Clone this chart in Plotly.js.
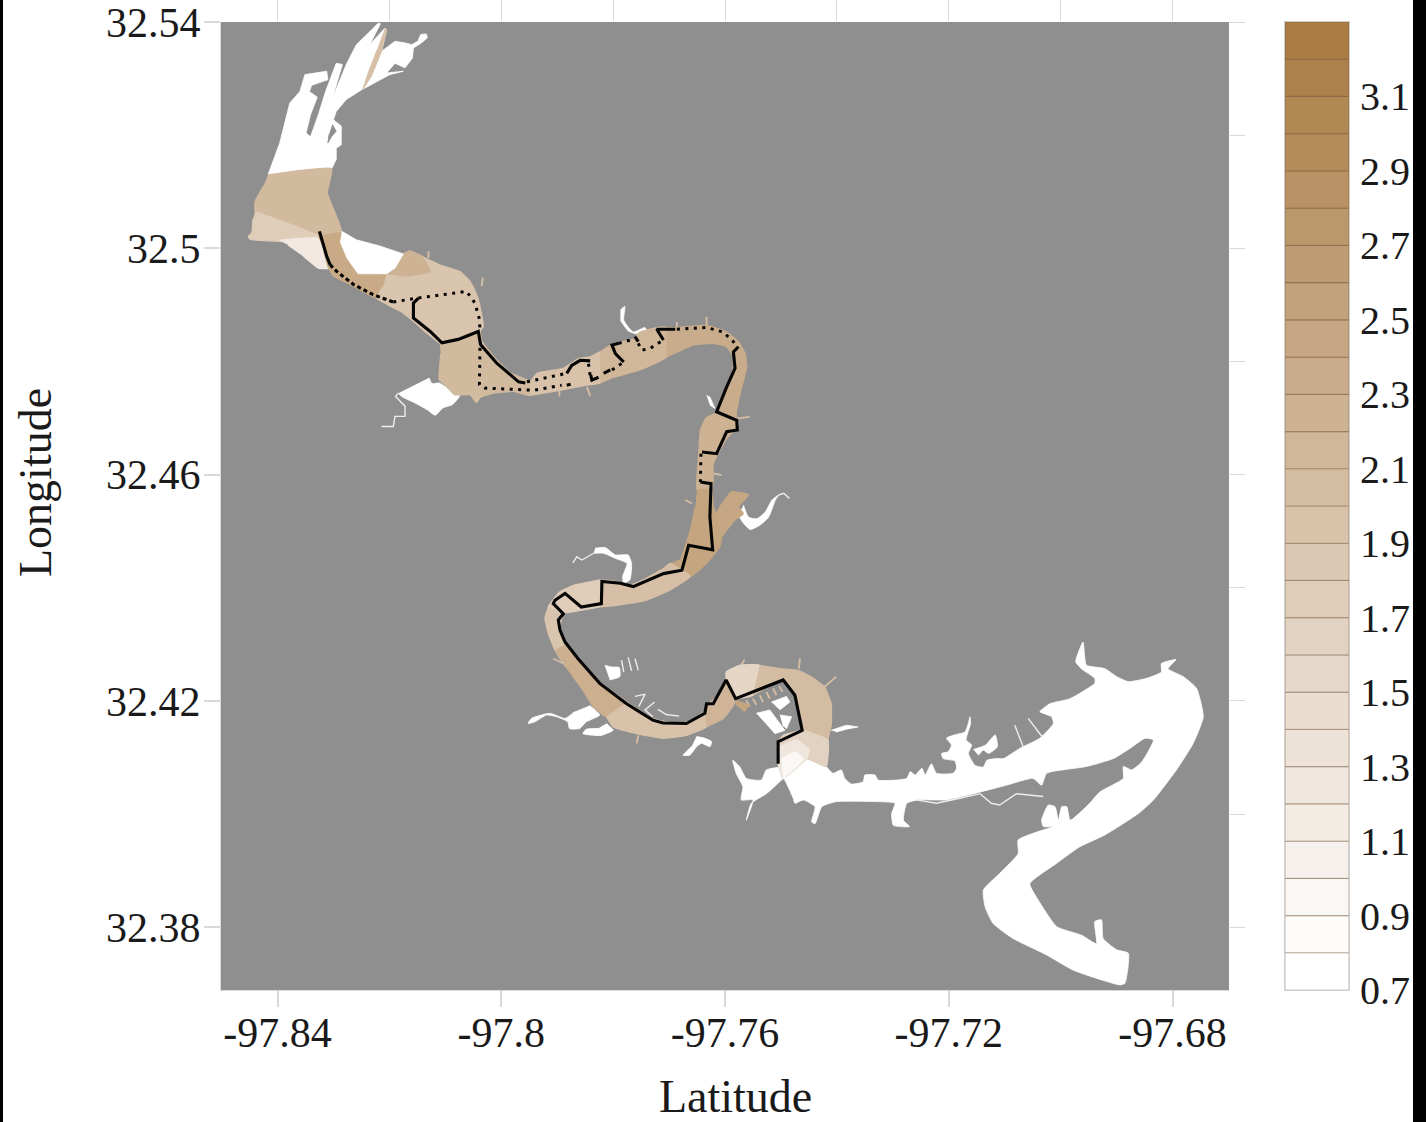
<!DOCTYPE html>
<html><head><meta charset="utf-8">
<script src="https://cdn.plot.ly/plotly-3.0.1.min.js"></script>
<style>html,body{margin:0;padding:0;background:#fff;overflow:hidden}</style></head>
<body><div id="chart" style="width:1426px;height:1122px"></div>
<script>
// ---- colour bar levels and tick labels ----
const levelMids=[0.75,0.85,0.95,1.05,1.15,1.25,1.35,1.45,1.55,1.65,1.75,1.85,1.95,2.05,2.15,2.25,2.35,2.45,2.55,2.65,2.75,2.85,2.95,3.05,3.15,3.25];
const levelTicks=[0.7,0.9,1.1,1.3,1.5,1.7,1.9,2.1,2.3,2.5,2.7,2.9,3.1];
const lonTicks=[-97.84,-97.8,-97.76,-97.72,-97.68];
const lonLabels=['-97.84','-97.8','-97.76','-97.72','-97.68'];
const latTicks=[32.38,32.42,32.46,32.5,32.54];
const latLabels=['32.38','32.42','32.46','32.5','32.54'];

// ---- white (below range) water ----
const lakeLon=[-97.7419,-97.7407,-97.7392,-97.7386,-97.7374,-97.7353,-97.7350,-97.7332,-97.7326,-97.7275,-97.7269,-97.7260,-97.7248,-97.7242,-97.7231,-97.7222,-97.7192,-97.7186,-97.7189,-97.7210,-97.7213,-97.7201,-97.7195,-97.7204,-97.7189,-97.7171,-97.7165,-97.7162,-97.7161,-97.7169,-97.7159,-97.7165,-97.7153,-97.7138,-97.7132,-97.7114,-97.7102,-97.7073,-97.7037,-97.7013,-97.7016,-97.7037,-97.7019,-97.6983,-97.6939,-97.6939,-97.6963,-97.6973,-97.6960,-97.6957,-97.6954,-97.6921,-97.6900,-97.6879,-97.6846,-97.6820,-97.6820,-97.6794,-97.6808,-97.6781,-97.6757,-97.6745,-97.6763,-97.6793,-97.6834,-97.6861,-97.6921,-97.6966,-97.7007,-97.7055,-97.7040,-97.7007,-97.6963,-97.6936,-97.6939,-97.6927,-97.6924,-97.6900,-97.6879,-97.6885,-97.6894,-97.6977,-97.7025,-97.7085,-97.7121,-97.7135,-97.7138,-97.7109,-97.7076,-97.7076,-97.7049,-97.7013,-97.7031,-97.7034,-97.7022,-97.7010,-97.7004,-97.6998,-97.6989,-97.6983,-97.6948,-97.6930,-97.6888,-97.6888,-97.6873,-97.6855,-97.6834,-97.6849,-97.6876,-97.6906,-97.6954,-97.7025,-97.7034,-97.7049,-97.7097,-97.7144,-97.7204,-97.7255,-97.7275,-97.7281,-97.7270,-97.7299,-97.7302,-97.7296,-97.7329,-97.7401,-97.7427,-97.7439,-97.7445,-97.7439,-97.7460,-97.7475,-97.7478,-97.7493,-97.7496,-97.7454];
const lakeLat=[32.4084,32.4072,32.4078,32.4063,32.4053,32.4057,32.4069,32.4069,32.4060,32.4063,32.4075,32.4069,32.4081,32.4069,32.4089,32.4072,32.4072,32.4081,32.4094,32.4098,32.4107,32.4110,32.4122,32.4134,32.4140,32.4145,32.4160,32.4172,32.4160,32.4131,32.4122,32.4107,32.4086,32.4083,32.4095,32.4098,32.4098,32.4116,32.4134,32.4160,32.4172,32.4181,32.4195,32.4204,32.4231,32.4240,32.4257,32.4269,32.4304,32.4278,32.4263,32.4257,32.4243,32.4234,32.4240,32.4251,32.4266,32.4273,32.4257,32.4243,32.4222,32.4172,32.4125,32.4078,32.4025,32.4001,32.3963,32.3942,32.3913,32.3877,32.3848,32.3801,32.3786,32.3771,32.3810,32.3813,32.3780,32.3760,32.3754,32.3701,32.3698,32.3724,32.3751,32.3780,32.3807,32.3836,32.3866,32.3895,32.3930,32.3954,32.3966,32.3978,32.3978,32.3989,32.4016,32.4013,32.3989,32.4013,32.4013,32.3989,32.4019,32.4039,32.4063,32.4084,32.4078,32.4092,32.4131,32.4134,32.4116,32.4098,32.4084,32.4072,32.4051,32.4063,32.4051,32.4039,32.4025,32.4025,32.4019,32.3989,32.3978,32.3980,32.4001,32.4019,32.4022,32.4022,32.4013,32.3983,32.3986,32.4013,32.4025,32.4019,32.4028,32.4060,32.4063,32.4098];
const lakeCanalLon=[-97.7156,-97.7134,-97.7117,-97.7113,-97.7129,-97.7138,-97.7147];
const lakeCanalLat=[32.4114,32.4122,32.4140,32.4119,32.4107,32.4113,32.4104];
const northLon=[-97.8417,-97.8396,-97.8378,-97.8360,-97.8351,-97.8312,-97.8310,-97.8339,-97.8343,-97.8329,-97.8341,-97.8349,-97.8341,-97.8327,-97.8314,-97.8295,-97.8284,-97.8302,-97.8277,-97.8259,-97.8232,-97.8220,-97.8216,-97.8235,-97.8208,-97.8205,-97.8214,-97.8190,-97.8172,-97.8160,-97.8149,-97.8144,-97.8134,-97.8132,-97.8143,-97.8157,-97.8159,-97.8172,-97.8190,-97.8205,-97.8175,-97.8199,-97.8250,-97.8277,-97.8295,-97.8300,-97.8286,-97.8286,-97.8295,-97.8295,-97.8303];
const northLat=[32.5130,32.5186,32.5257,32.5277,32.5307,32.5313,32.5298,32.5288,32.5277,32.5267,32.5236,32.5204,32.5197,32.5236,32.5277,32.5327,32.5325,32.5265,32.5325,32.5360,32.5386,32.5398,32.5397,32.5360,32.5389,32.5386,32.5348,32.5366,32.5363,32.5360,32.5366,32.5378,32.5379,32.5372,32.5363,32.5354,32.5336,32.5319,32.5327,32.5310,32.5313,32.5307,32.5280,32.5263,32.5242,32.5227,32.5216,32.5183,32.5177,32.5157,32.5141];
const whitePatchLon=[-97.8285,-97.8259,-97.8217,-97.8175,-97.8190,-97.8205,-97.8256,-97.8276,-97.8288];
const whitePatchLat=[32.5030,32.5015,32.5004,32.4990,32.4965,32.4955,32.4955,32.4983,32.5012];
const westArmLon=[-97.8129,-97.8124,-97.8111,-97.8101,-97.8074,-97.8087,-97.8104,-97.8118,-97.8133,-97.8155,-97.8178,-97.8184];
const westArmLat=[32.4771,32.4761,32.4762,32.4756,32.4741,32.4724,32.4718,32.4705,32.4715,32.4727,32.4738,32.4744];
const inletN1Lon=[-97.7832,-97.7814,-97.7796,-97.7773,-97.7767,-97.7770,-97.7781,-97.7783,-97.7775,-97.7796,-97.7817,-97.7835];
const inletN1Lat=[32.4470,32.4471,32.4458,32.4458,32.4443,32.4414,32.4408,32.4420,32.4443,32.4452,32.4461,32.4461];
const inletE1Lon=[-97.7567,-97.7558,-97.7543,-97.7528,-97.7516,-97.7504,-97.7510,-97.7522,-97.7537,-97.7555,-97.7567,-97.7576];
const inletE1Lat=[32.4546,32.4525,32.4522,32.4534,32.4555,32.4564,32.4555,32.4525,32.4511,32.4503,32.4514,32.4528];
const inletT1Lon=[-97.7787,-97.7779,-97.7781,-97.7764,-97.7743,-97.7740,-97.7758,-97.7773,-97.7787];
const inletT1Lat=[32.4891,32.4897,32.4873,32.4852,32.4860,32.4854,32.4849,32.4854,32.4873];
const inletT2Lon=[-97.7633,-97.7627,-97.7618,-97.7627];
const inletT2Lat=[32.4740,32.4737,32.4717,32.4723];
const inletS1Lon=[-97.7842,-97.7824,-97.7848,-97.7860,-97.7878,-97.7881,-97.7901,-97.7919,-97.7940,-97.7952,-97.7946,-97.7913,-97.7886,-97.7869];
const inletS1Lat=[32.4192,32.4175,32.4163,32.4151,32.4151,32.4163,32.4172,32.4175,32.4163,32.4160,32.4169,32.4178,32.4169,32.4181];
const inletS2Lon=[-97.7812,-97.7800,-97.7821,-97.7833,-97.7854,-97.7848,-97.7827];
const inletS2Lat=[32.4160,32.4148,32.4139,32.4139,32.4142,32.4150,32.4151];
const inletS3Lon=[-97.7651,-97.7636,-97.7624,-97.7627,-97.7642,-97.7651,-97.7663,-97.7675,-97.7660];
const inletS3Lat=[32.4137,32.4134,32.4128,32.4119,32.4125,32.4119,32.4104,32.4104,32.4119];
const inletWLon=[-97.7493,-97.7526,-97.7535,-97.7562,-97.7574,-97.7586,-97.7580,-97.7568,-97.7571,-97.7550,-97.7562,-97.7553,-97.7526,-97.7496];
const inletWLat=[32.4084,32.4078,32.4060,32.4063,32.4084,32.4095,32.4072,32.4048,32.4025,32.4025,32.3989,32.4019,32.4036,32.4063];
const inletELon=[-97.7410,-97.7383,-97.7362,-97.7383,-97.7401];
const inletELat=[32.4148,32.4157,32.4154,32.4150,32.4145];
const canalLon=[-97.7815,-97.7803,-97.7789,-97.7788,-97.7806];
const canalLat=[32.4263,32.4260,32.4259,32.4243,32.4237];
const block1Lon=[-97.7544,-97.7520,-97.7493,-97.7511];
const block1Lat=[32.4178,32.4184,32.4148,32.4142];
const block2Lon=[-97.7517,-97.7490,-97.7484,-97.7502];
const block2Lat=[32.4198,32.4208,32.4198,32.4184];
const block3Lon=[-97.7502,-97.7481,-97.7490,-97.7497];
const block3Lat=[32.4175,32.4172,32.4151,32.4157];
const whiteLinesLon=[-97.8184,-97.8189,-97.8172,-97.8172,-97.8190,-97.8193,-97.8214,null,-97.7835,-97.7856,-97.7865,-97.7872,null,-97.7504,-97.7495,-97.7485,null,-97.7785,-97.7781,null,-97.7773,-97.7767,null,-97.7761,-97.7755,null,-97.7761,-97.7743,-97.7754,null,-97.7726,-97.7743,-97.7729,null,-97.7720,-97.7705,-97.7682,null,-97.7258,-97.7222,-97.7180,-97.7144,-97.7124,-97.7109,-97.7079,-97.7031,null,-97.7082,-97.7067,null,-97.7058,-97.7031];
const whiteLinesLat=[32.4744,32.4738,32.4721,32.4703,32.4703,32.4685,32.4685,null,32.4461,32.4449,32.4455,32.4444,null,32.4564,32.4567,32.4558,null,32.4272,32.4251,null,32.4277,32.4253,null,32.4275,32.4254,null,32.4208,32.4212,32.4190,null,32.4198,32.4184,32.4172,null,32.4185,32.4176,32.4173,null,32.4025,32.4019,32.4028,32.4036,32.4019,32.4016,32.4036,32.4031,null,32.4157,32.4119,null,32.4169,32.4134];

// ---- coloured reach polygons and the level of each ----
const stripLon=[-97.8208,-97.8205,-97.8214,-97.8232,-97.8248,-97.8238,-97.8222];
const stripLat=[32.5389,32.5386,32.5348,32.5304,32.5280,32.5310,32.5351];
const stripLevel=2.0;
const p1Lon=[-97.8417,-97.8303,-97.8311,-97.8291,-97.8285,-97.8291,-97.8324,-97.8440,-97.8440,-97.8425];
const p1Lat=[32.5130,32.5141,32.5098,32.5048,32.5027,32.4998,32.5021,32.5065,32.5083,32.5110];
const p1Level=2.1;
const p2Lon=[-97.8440,-97.8324,-97.8381,-97.8449,-97.8452,-97.8446,-97.8444];
const p2Lat=[32.5065,32.5021,32.5012,32.5016,32.5021,32.5027,32.5051];
const p2Level=1.75;
const p3Lon=[-97.8396,-97.8327,-97.8315,-97.8306,-97.8327,-97.8357,-97.8381];
const p3Lat=[32.5014,32.5018,32.4992,32.4965,32.4965,32.4989,32.5006];
const p3Level=1.2;
const p4Lon=[-97.8327,-97.8285,-97.8276,-97.8256,-97.8205,-97.8211,-97.8223,-97.8264,-97.8300,-97.8309,-97.8318];
const p4Lat=[32.5021,32.5027,32.4983,32.4955,32.4955,32.4933,32.4912,32.4933,32.4951,32.4965,32.4998];
const p4Level=2.4;
const p5Lon=[-97.8205,-97.8190,-97.8175,-97.8163,-97.8142,-97.8110,-97.8074,-97.8056,-97.8045,-97.8038,-97.8032,-97.8038,-97.8068,-97.8106,-97.8133,-97.8157,-97.8181,-97.8223,-97.8211];
const p5Lat=[32.4955,32.4965,32.4990,32.4995,32.4986,32.4971,32.4959,32.4942,32.4921,32.4898,32.4862,32.4853,32.4842,32.4830,32.4850,32.4871,32.4889,32.4912,32.4933];
const p5Level=1.9;
const p5bLon=[-97.8190,-97.8175,-97.8163,-97.8142,-97.8127,-97.8169,-97.8205];
const p5bLat=[32.4965,32.4990,32.4995,32.4986,32.4959,32.4951,32.4955];
const p5bLevel=2.25;
const p6Lon=[-97.8110,-97.8068,-97.8038,-97.8035,-97.8014,-97.7984,-97.7948,-97.7948,-97.7978,-97.8014,-97.8038,-97.8044,-97.8056,-97.8083,-97.8101,-97.8111,-97.8108];
const p6Lat=[32.4830,32.4842,32.4853,32.4836,32.4809,32.4780,32.4764,32.4740,32.4747,32.4744,32.4736,32.4727,32.4741,32.4741,32.4759,32.4768,32.4815];
const p6Level=2.1;
const r2Lon=[-97.7948,-97.7936,-97.7889,-97.7862,-97.7841,-97.7823,-97.7823,-97.7847,-97.7895,-97.7948];
const r2Lat=[32.4764,32.4779,32.4788,32.4805,32.4808,32.4817,32.4762,32.4758,32.4749,32.4740];
const r2Level=1.95;
const r3Lon=[-97.7823,-97.7799,-97.7764,-97.7752,-97.7722,-97.7704,-97.7704,-97.7752,-97.7799,-97.7823];
const r3Lat=[32.4817,32.4832,32.4839,32.4852,32.4860,32.4860,32.4808,32.4785,32.4772,32.4762];
const r3Level=2.15;
const r4Lon=[-97.7704,-97.7686,-97.7633,-97.7597,-97.7576,-97.7564,-97.7561,-97.7570,-97.7580,-97.7579,-97.7615,-97.7588,-97.7585,-97.7597,-97.7621,-97.7656,-97.7704];
const r4Lat=[32.4860,32.4860,32.4864,32.4852,32.4835,32.4814,32.4790,32.4755,32.4708,32.4699,32.4711,32.4773,32.4808,32.4826,32.4832,32.4829,32.4808];
const r4Level=2.35;
const r5Lon=[-97.7615,-97.7579,-97.7576,-97.7585,-97.7597,-97.7609,-97.7621,-97.7621,-97.7624,-97.7650,-97.7647,-97.7644,-97.7633];
const r5Lat=[32.4711,32.4699,32.4690,32.4676,32.4664,32.4643,32.4620,32.4590,32.4573,32.4573,32.4637,32.4679,32.4702];
const r5Level=2.25;
const r6Lon=[-97.7650,-97.7624,-97.7621,-97.7615,-97.7606,-97.7609,-97.7633,-97.7662,-97.7698,-97.7680,-97.7671,-97.7662,-97.7653];
const r6Lat=[32.4573,32.4573,32.4543,32.4531,32.4490,32.4473,32.4443,32.4420,32.4443,32.4449,32.4473,32.4502,32.4543];
const r6Level=2.5;
const r6bLon=[-97.7615,-97.7609,-97.7588,-97.7558,-97.7576,-97.7567,-97.7582,-97.7606];
const r6bLat=[32.4531,32.4543,32.4570,32.4564,32.4543,32.4531,32.4520,32.4490];
const r6bLevel=2.45;
const r7Lon=[-97.7823,-97.7793,-97.7770,-97.7746,-97.7710,-97.7698,-97.7662,-97.7698,-97.7740,-97.7793,-97.7823];
const r7Lat=[32.4414,32.4411,32.4405,32.4414,32.4434,32.4443,32.4420,32.4396,32.4378,32.4369,32.4366];
const r7Level=2.0;
const r8Lon=[-97.7823,-97.7868,-97.7895,-97.7916,-97.7889,-97.7853,-97.7823];
const r8Lat=[32.4414,32.4405,32.4393,32.4366,32.4355,32.4361,32.4366];
const r8Level=1.75;
const r9Lon=[-97.7916,-97.7922,-97.7916,-97.7904,-97.7884,-97.7854,-97.7884,-97.7895,-97.7889];
const r9Lat=[32.4366,32.4346,32.4319,32.4290,32.4260,32.4260,32.4301,32.4331,32.4354];
const r9Level=1.9;
const r10Lon=[-97.7904,-97.7884,-97.7854,-97.7836,-97.7812,-97.7776,-97.7824,-97.7854,-97.7884];
const r10Lat=[32.4290,32.4260,32.4219,32.4190,32.4172,32.4198,32.4231,32.4260,32.4301];
const r10Level=2.3;
const r11Lon=[-97.7812,-97.7800,-97.7758,-97.7711,-97.7669,-97.7633,-97.7636,-97.7657,-97.7687,-97.7729,-97.7776];
const r11Lat=[32.4172,32.4154,32.4142,32.4134,32.4139,32.4154,32.4181,32.4166,32.4159,32.4169,32.4198];
const r11Level=1.95;
const r12Lon=[-97.7633,-97.7603,-97.7586,-97.7580,-97.7598,-97.7615,-97.7630,-97.7636];
const r12Lat=[32.4154,32.4169,32.4190,32.4204,32.4237,32.4207,32.4195,32.4181];
const r12Level=2.2;
const r13Lon=[-97.7598,-97.7598,-97.7574,-97.7538,-97.7550,-97.7580];
const r13Lat=[32.4237,32.4251,32.4263,32.4263,32.4210,32.4204];
const r13Level=1.6;
const r14Lon=[-97.7538,-97.7502,-97.7469,-97.7442,-97.7422,-97.7410,-97.7410,-97.7416,-97.7419,-97.7454,-97.7496,-97.7505,-97.7505,-97.7496,-97.7462,-97.7475,-97.7496,-97.7550];
const r14Lat=[32.4263,32.4257,32.4254,32.4240,32.4225,32.4195,32.4157,32.4131,32.4084,32.4098,32.4063,32.4089,32.4128,32.4139,32.4148,32.4210,32.4237,32.4210];
const r14Level=2.05;
const wedgeLon=[-97.7581,-97.7556,-97.7565,-97.7580];
const wedgeLat=[32.4201,32.4193,32.4181,32.4193];
const wedgeLevel=2.5;
const fade1Lon=[-97.7505,-97.7496,-97.7462,-97.7416,-97.7419,-97.7454,-97.7496,-97.7505];
const fade1Lat=[32.4128,32.4139,32.4148,32.4131,32.4084,32.4098,32.4063,32.4089];
const fade1Level=1.65;
const fade2Lon=[-97.7503,-97.7472,-97.7449,-97.7454,-97.7496,-97.7505];
const fade2Lat=[32.4119,32.4131,32.4113,32.4098,32.4063,32.4089];
const fade2Level=1.25;
const fade3Lon=[-97.7499,-97.7475,-97.7460,-97.7496];
const fade3Lat=[32.4098,32.4110,32.4098,32.4063];
const fade3Level=0.95;
const spursLon=[-97.7571,-97.7565,null,-97.7468,-97.7466,null,-97.7422,-97.7401,null,-97.7755,-97.7758,null,-97.7907,-97.7889,null,-97.7633,-97.7633,null,-97.7686,-97.7686,null,-97.7580,-97.7556,null,-97.7621,-97.7606,null,-97.7659,-97.7671,null,-97.7847,-97.7841,null,-97.7896,-97.7896,null,-97.8130,-97.8130,null,-97.8035,-97.8033,null,-97.7562,-97.7556,null,-97.7550,-97.7544,null,-97.7538,-97.7532,null,-97.7526,-97.7520,null,-97.7514,-97.7508,null,-97.7503,-97.7497];
const spursLat=[32.4263,32.4273,null,32.4257,32.4275,null,32.4225,32.4243,null,32.4139,32.4125,null,32.4275,32.4266,null,32.4864,32.4879,null,32.4861,32.4870,null,32.4699,32.4702,null,32.4602,32.4599,null,32.4549,32.4555,null,32.4755,32.4739,null,32.4749,32.4738,null,32.4983,32.4995,null,32.4933,32.4948,null,32.4201,32.4190,null,32.4204,32.4193,null,32.4210,32.4198,null,32.4216,32.4204,null,32.4222,32.4210,null,32.4226,32.4216];
const loopLon=[-97.8302,-97.8295,-97.8303,-97.8310,-97.8308];
const loopLat=[32.5219,32.5207,32.5198,32.5186,32.5201];

// ---- transect tracks ----
const solidLon=[-97.8325,-97.8321,-97.8312,-97.8306,null,-97.8148,-97.8157,-97.8157,-97.8127,-97.8106,-97.8077,-97.8041,-97.8037,-97.8008,-97.7984,-97.7969,-97.7957,null,-97.7883,-97.7874,-97.7859,-97.7841,null,-97.7840,-97.7838,-97.7826,null,-97.7817,-97.7805,null,-97.7781,-97.7796,-97.7802,-97.7790,null,-97.7761,-97.7755,null,-97.7710,-97.7722,-97.7689,null,-97.7576,-97.7585,-97.7582,-97.7597,-97.7615,-97.7579,-97.7578,-97.7597,-97.7615,-97.7641,null,-97.7644,-97.7625,-97.7627,-97.7622,-97.7665,-97.7677,-97.7710,-97.7764,-97.7787,-97.7820,-97.7821,-97.7857,-97.7886,-97.7904,-97.7907,-97.7889,-97.7898,-97.7895,-97.7886,-97.7863,-97.7824,-97.7776,-97.7729,-97.7711,-97.7669,-97.7636,-97.7633,-97.7621,-97.7598,-97.7581,-97.7496,-97.7475,-97.7462,-97.7505,-97.7505];
const solidLat=[32.5030,32.5015,32.4986,32.4971,null,32.4912,32.4903,32.4877,32.4853,32.4833,32.4839,32.4853,32.4830,32.4797,32.4776,32.4764,32.4762,null,32.4779,32.4793,32.4802,32.4801,null,32.4776,32.4767,32.4772,null,32.4779,32.4785,null,32.4799,32.4814,32.4829,32.4832,null,32.4844,32.4835,null,32.4838,32.4857,32.4857,null,32.4826,32.4817,32.4788,32.4755,32.4711,32.4696,32.4679,32.4676,32.4637,32.4640,null,32.4587,32.4584,32.4525,32.4467,32.4475,32.4431,32.4425,32.4402,32.4408,32.4411,32.4372,32.4366,32.4390,32.4378,32.4372,32.4354,32.4343,32.4325,32.4304,32.4275,32.4231,32.4195,32.4166,32.4161,32.4160,32.4178,32.4195,32.4195,32.4237,32.4204,32.4237,32.4210,32.4148,32.4128,32.4089];
const dashedLon=[-97.8306,-97.8294,-97.8264,-97.8229,-97.8193,null,-97.7883,-97.7874];
const dashedLat=[32.4971,32.4959,32.4936,32.4918,32.4905,null,32.4758,32.4760];
const dottedLon=[-97.8193,-97.8151,-97.8104,-97.8062,-97.8047,-97.8038,-97.8039,null,-97.8038,-97.8039,-97.8029,-97.7942,-97.7892,null,-97.7954,-97.7925,-97.7883,null,-97.7844,-97.7840,null,-97.7802,-97.7781,null,-97.7790,-97.7758,null,-97.7755,-97.7749,-97.7734,-97.7710,null,-97.7686,-97.7633,-97.7603,-97.7579,null,-97.7643,-97.7644];
const dottedLat=[32.4905,32.4912,32.4918,32.4924,32.4903,32.4871,32.4853,null,32.4824,32.4759,32.4753,32.4749,32.4758,null,32.4764,32.4770,32.4779,null,32.4796,32.4767,null,32.4785,32.4799,null,32.4832,32.4841,null,32.4832,32.4820,32.4823,32.4838,null,32.4857,32.4860,32.4852,32.4829,null,32.4637,32.4587];

// ---- colour scale for every coloured mark ----
const levelMin=0.7, levelMax=3.3;
const scaleStops=[[0,[255,255,255]],[0.038,[255,255,255]],[0.192,[241,233,225]],[0.308,[231,218,205]],[0.5,[214,191,166]],[0.769,[189,154,112]],[1,[168,121,63]]];
const colorScale=scaleStops.map(s=>[s[0],'rgb('+s[1].join(',')+')']);
function levelColor(v){
  const t=(v-levelMin)/(levelMax-levelMin);
  for(let i=1;i<scaleStops.length;i++){
    if(t<=scaleStops[i][0]){
      const a=scaleStops[i-1],b=scaleStops[i],f=(t-a[0])/(b[0]-a[0]);
      return 'rgb('+a[1].map((c,k)=>Math.round(c+(b[1][k]-c)*f)).join(',')+')';
    }
  }
  return colorScale[colorScale.length-1][1];
}
const gray='#8f8f8f', serif='"Liberation Serif","Times New Roman",serif', ink='#1a1a1a';
function area(x,y,color,smooth,width){
  const line={color,width:width||0.8};
  if(smooth){line.shape='spline';line.smoothing=smooth;}
  return {type:'scatter',mode:'lines',x,y,fill:'toself',fillcolor:color,line,hoverinfo:'skip',showlegend:false};
}
function track(x,y,width,dash){
  return {type:'scatter',mode:'lines',x,y,line:{color:'#050505',width,dash:dash||'solid'},hoverinfo:'skip',showlegend:false,connectgaps:false};
}
function reach(x,y,level){return area(x,y,levelColor(level),0.35,1.2);}
const traces=[
 area(lakeLon,lakeLat,'#fff',0.5),area(lakeCanalLon,lakeCanalLat,'#fff',0.5),area(northLon,northLat,'#fff'),area(loopLon,loopLat,gray),
 area(westArmLon,westArmLat,'#fff',0.6),area(inletN1Lon,inletN1Lat,'#fff',0.5),area(inletE1Lon,inletE1Lat,'#fff',0.6),
 area(inletT1Lon,inletT1Lat,'#fff',0.5),area(inletT2Lon,inletT2Lat,'#fff'),area(inletS1Lon,inletS1Lat,'#fff',0.5),
 area(inletS2Lon,inletS2Lat,'#fff',0.5),area(inletS3Lon,inletS3Lat,'#fff',0.5),area(inletWLon,inletWLat,'#fff',0.5),
 area(inletELon,inletELat,'#fff'),area(canalLon,canalLat,'#fff',0.5),
 {type:'scatter',mode:'lines',x:whiteLinesLon,y:whiteLinesLat,line:{color:'#ededed',width:1.4},hoverinfo:'skip',showlegend:false},
 {type:'scatter',mode:'lines',x:spursLon,y:spursLat,line:{color:levelColor(2.0),width:1.8},hoverinfo:'skip',showlegend:false},
 area(stripLon,stripLat,levelColor(stripLevel)),reach(p1Lon,p1Lat,p1Level),reach(p2Lon,p2Lat,p2Level),
 reach(p3Lon,p3Lat,p3Level),reach(p4Lon,p4Lat,p4Level),reach(p5Lon,p5Lat,p5Level),
 reach(p5bLon,p5bLat,p5bLevel),reach(p6Lon,p6Lat,p6Level),reach(r2Lon,r2Lat,r2Level),
 reach(r3Lon,r3Lat,r3Level),reach(r4Lon,r4Lat,r4Level),reach(r5Lon,r5Lat,r5Level),
 reach(r6Lon,r6Lat,r6Level),reach(r6bLon,r6bLat,r6bLevel),reach(r7Lon,r7Lat,r7Level),
 reach(r8Lon,r8Lat,r8Level),reach(r9Lon,r9Lat,r9Level),reach(r10Lon,r10Lat,r10Level),
 reach(r11Lon,r11Lat,r11Level),reach(r12Lon,r12Lat,r12Level),reach(r13Lon,r13Lat,r13Level),
 reach(r14Lon,r14Lat,r14Level),reach(fade1Lon,fade1Lat,fade1Level),reach(fade2Lon,fade2Lat,fade2Level),
 reach(fade3Lon,fade3Lat,fade3Level),area(wedgeLon,wedgeLat,levelColor(wedgeLevel)),
 area(whitePatchLon,whitePatchLat,'#fff'),area(block1Lon,block1Lat,'#fff'),area(block2Lon,block2Lat,'#fff'),area(block3Lon,block3Lat,'#fff'),
 track(solidLon,solidLat,3.1),track(dashedLon,dashedLat,3.1,'4px,3px'),track(dottedLon,dottedLat,3,'3px,5.5px'),
 {type:'bar',orientation:'h',xaxis:'x2',yaxis:'y2',y:levelMids,x:levelMids.map(()=>1),width:0.1,
  marker:{color:levelMids,colorscale:colorScale,cmin:levelMin,cmax:levelMax,line:{color:'rgba(105,72,40,0.32)',width:1.2}},hoverinfo:'skip',showlegend:false},
 {type:'scatter',mode:'markers',xaxis:'x3',yaxis:'y3',x:lonTicks,y:latTicks,marker:{size:1,opacity:0},hoverinfo:'skip',showlegend:false}
];
const W=1426,H=1122;
const xDom=[221/W,1229/W], yDom=[1-990/H,1-22/H];
const xRange=[-97.8501,-97.6699], yRange=[32.3689,32.54];
const tickGray='#d9d9d9';
const layout={
 width:W,height:H,margin:{l:0,r:0,t:0,b:0},autosize:false,paper_bgcolor:'#fff',plot_bgcolor:gray,barmode:'overlay',showlegend:false,
 font:{family:serif,color:ink,size:41},
 xaxis:{domain:xDom,range:xRange,tickmode:'array',tickvals:lonTicks,ticktext:lonLabels,ticks:'outside',ticklen:16,tickwidth:2,tickcolor:tickGray,ticklabelstandoff:-10,
   showgrid:false,zeroline:false,showline:true,linecolor:tickGray,linewidth:1,tickfont:{family:serif,size:42,color:ink}},
 yaxis:{domain:yDom,range:yRange,tickmode:'array',tickvals:latTicks,ticktext:latLabels,ticks:'outside',ticklen:16,tickwidth:2,tickcolor:tickGray,ticklabelstandoff:-5,ticklabeloverflow:'allow',
   showgrid:false,zeroline:false,showline:true,linecolor:tickGray,linewidth:1,tickfont:{family:serif,size:42,color:ink}},
 xaxis3:{overlaying:'x',matches:'x',side:'top',anchor:'y3',domain:xDom,range:xRange,tick0:-97.84,dtick:0.02,ticks:'outside',ticklen:22,tickwidth:1,tickcolor:tickGray,showticklabels:false,showgrid:false,zeroline:false},
 yaxis3:{overlaying:'y',matches:'y',side:'right',anchor:'x3',domain:yDom,range:yRange,tick0:32.38,dtick:0.02,ticks:'outside',ticklen:15,tickwidth:1,tickcolor:tickGray,showticklabels:false,showgrid:false,zeroline:false},
 xaxis2:{domain:[1285/W,1349/W],anchor:'y2',range:[0,1],showticklabels:false,ticks:'',showgrid:false,zeroline:false,showline:true,mirror:true,linecolor:'#cfcfcf',linewidth:1},
 yaxis2:{domain:yDom,anchor:'x2',side:'right',range:[levelMin,levelMax],tickmode:'array',tickvals:levelTicks,ticktext:levelTicks.map(v=>v.toFixed(1)),ticks:'outside',ticklen:2,tickcolor:'rgba(0,0,0,0)',ticklabeloverflow:'allow',
   showgrid:false,zeroline:false,showline:true,mirror:true,linecolor:'#cfcfcf',linewidth:1,tickfont:{family:serif,size:40,color:ink}},
 annotations:[
  {text:'Latitude',xref:'paper',yref:'paper',x:735/W,y:1-1096/H,xanchor:'center',yanchor:'middle',showarrow:false,font:{family:serif,size:46,color:ink}},
  {text:'Longitude',xref:'paper',yref:'paper',x:36/W,y:1-483/H,xanchor:'center',yanchor:'middle',textangle:-90,showarrow:false,font:{family:serif,size:46,color:ink}}
 ],
 shapes:[
  {type:'rect',xref:'paper',yref:'paper',x0:0,x1:3/W,y0:0,y1:1,fillcolor:'#000',line:{width:0},layer:'above'},
  {type:'rect',xref:'paper',yref:'paper',x0:1413/W,x1:1,y0:0,y1:1,fillcolor:'#000',line:{width:0},layer:'above'}
 ]
};
Plotly.newPlot('chart',traces,layout,{displayModeBar:false,responsive:false});
</script></body></html>
